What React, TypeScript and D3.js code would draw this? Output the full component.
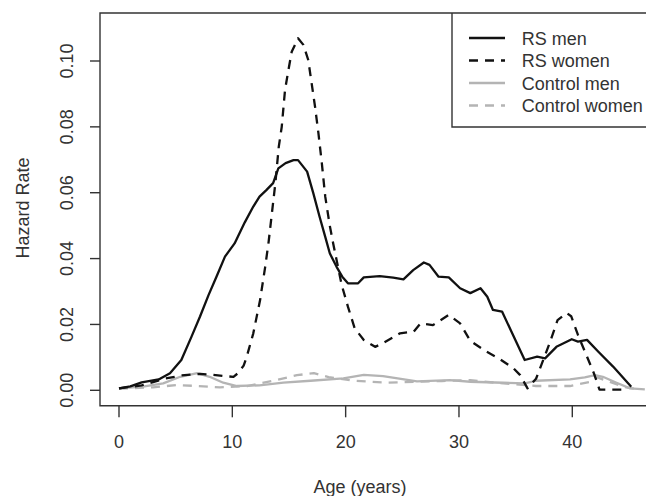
import React from "react";
import * as d3 from "d3";

const xTicks = [0, 10, 20, 30, 40];
const yTicks = [0, 0.02, 0.04, 0.06, 0.08, 0.1];
const yTickLabels = ["0.00", "0.02", "0.04", "0.06", "0.08", "0.10"];

const rsMenAge = [0, 1, 2, 3, 3.5, 4.5, 5.5, 6.4, 7.15, 7.9, 8.6, 9.35, 10.2, 11.1, 11.85, 12.4, 13.0, 13.6, 14.06, 14.7, 15.4, 15.8, 16.6, 17.15, 17.7, 18.2, 18.6, 19.2, 19.7, 20.2, 21.1, 21.6, 23.0, 24.2, 25.1, 25.96, 26.9, 27.4, 28.2, 29.1, 30.1, 31.0, 31.9, 32.5, 33.0, 33.8, 35.8, 36.9, 37.6, 38.6, 39.95, 40.5, 41.3, 42.3, 43.6, 45.2];
const rsMenRate = [0.0006, 0.0012, 0.0024, 0.003, 0.0033, 0.0052, 0.0092, 0.0163, 0.0224, 0.0289, 0.0345, 0.0406, 0.0446, 0.051, 0.0558, 0.0588, 0.0608, 0.0629, 0.0674, 0.069, 0.0699, 0.0699, 0.0664, 0.0598, 0.0527, 0.0466, 0.0416, 0.0375, 0.0345, 0.0325, 0.0325, 0.0343, 0.0347, 0.0342, 0.0337, 0.0365, 0.0388, 0.0381, 0.0345, 0.0343, 0.031, 0.0295, 0.031, 0.0284, 0.0244, 0.0239, 0.0092, 0.0102, 0.0097, 0.0132, 0.0155, 0.0148, 0.0153, 0.0117, 0.0072, 0.0011];

const rsWomenAge = [0, 2, 4, 5.5, 7.15, 8.0, 9.35, 10.1, 10.5, 11.0, 11.27, 11.85, 12.45, 12.9, 13.2, 13.5, 13.8, 14.1, 14.36, 14.65, 14.9, 15.24, 15.8, 16.27, 16.7, 17.0, 17.3, 17.6, 17.9, 18.2, 18.6, 18.9, 19.65, 20.2, 20.8, 21.6, 22.6, 23.3, 24.8, 26.0, 26.6, 27.7, 29.1, 30.1, 31.0, 32.3, 33.6, 34.8, 35.4, 36.05, 36.8, 38.0, 38.7, 39.5, 39.9, 40.5, 41.3, 41.9, 42.4, 44.5];
const rsWomenRate = [0.0006, 0.0015, 0.0035, 0.0045, 0.005, 0.0048, 0.0043, 0.0041, 0.0052, 0.0075, 0.0102, 0.0173, 0.0274, 0.0375, 0.045, 0.054, 0.063, 0.074, 0.08, 0.0912, 0.0963, 0.1028, 0.1069, 0.1049, 0.1003, 0.0932, 0.0861, 0.078, 0.0689, 0.0588, 0.05, 0.0446, 0.032, 0.0254, 0.0188, 0.0153, 0.0132, 0.0143, 0.0173, 0.0178, 0.0203, 0.0198, 0.0229, 0.0203, 0.015, 0.012, 0.0095, 0.0067, 0.0046, 0.0006, 0.0035, 0.0143, 0.0213, 0.0235, 0.0225, 0.0168, 0.0102, 0.0052, 0.0002, 0.0002];

const ctrlMenAge = [0, 2.1, 3.9, 5.4, 6.9, 8.0, 9.2, 10.4, 12.4, 14.5, 16.9, 19.8, 21.6, 23.3, 26.3, 29.2, 31.0, 33.9, 35.8, 36.8, 39.8, 41.1, 42.0, 42.7, 43.9, 45.1, 46.4];
const ctrlMenRate = [0.0006, 0.0011, 0.0021, 0.0041, 0.0052, 0.0041, 0.0023, 0.0013, 0.0015, 0.0023, 0.0029, 0.0036, 0.0047, 0.0043, 0.0027, 0.0031, 0.0026, 0.0023, 0.0021, 0.0029, 0.0033, 0.0039, 0.0046, 0.0041, 0.0023, 0.0006, 0.0003];

const ctrlWomenAge = [0, 3.0, 5.1, 6.9, 8.9, 11.3, 13.6, 15.7, 17.2, 18.5, 20.5, 23.6, 26.0, 28.5, 31.0, 33.5, 36.8, 39.8, 41.6, 42.2, 43.3, 44.5, 45.7];
const ctrlWomenRate = [0.0005, 0.0009, 0.0016, 0.0013, 0.0009, 0.0013, 0.0029, 0.0046, 0.0052, 0.004, 0.003, 0.0023, 0.0026, 0.0028, 0.0031, 0.0022, 0.0013, 0.0013, 0.0026, 0.0039, 0.0026, 0.0011, 0.0003];

const seriesNames = ["RS men", "RS women", "Control men", "Control women"];
const seriesColors = ["#111111", "#111111", "#b4b4b4", "#b4b4b4"];
const seriesDash = [null, "9,7", null, "9,7"];

const W = 646;
const H = 496;
const FONT = "'Liberation Sans', Arial, Helvetica, sans-serif";

export default function App() {
  const x = d3.scaleLinear().domain([0, 40]).range([119, 572.3]);
  const y = d3.scaleLinear().domain([0, 0.1]).range([390.3, 61]);
  const boxL = 100, boxT = 13, boxB = 405.7, boxR = 660;

  const series = [
    [rsMenAge, rsMenRate],
    [rsWomenAge, rsWomenRate],
    [ctrlMenAge, ctrlMenRate],
    [ctrlWomenAge, ctrlWomenRate],
  ];
  const line = d3
    .line<[number, number]>()
    .x((d) => x(d[0]))
    .y((d) => y(d[1]))
    .curve(d3.curveLinear);

  const drawOrder = [2, 3, 0, 1];
  const legendY = [38, 60.5, 83, 105.5];

  return (
    <svg
      width={W}
      height={H}
      style={{ position: "absolute", left: 0, top: 0, background: "#fff" }}
      fontFamily={FONT}
    >
      <rect x={0} y={0} width={W} height={H} fill="#fff" />
      {drawOrder.map((i) => {
        const [ages, rates] = series[i];
        const pts = ages.map((a, k) => [a, rates[k]] as [number, number]);
        return (
          <path
            key={i}
            d={line(pts) || ""}
            fill="none"
            stroke={seriesColors[i]}
            strokeWidth={2.3}
            strokeDasharray={seriesDash[i] || undefined}
            strokeLinejoin="round"
          />
        );
      })}
      {/* plot box */}
      <path
        d={`M${boxR},${boxT}H${boxL}V${boxB}H${boxR}`}
        fill="none"
        stroke="#333"
        strokeWidth={1.4}
      />
      {/* x axis ticks */}
      {xTicks.map((t) => (
        <g key={"x" + t}>
          <line x1={x(t)} x2={x(t)} y1={boxB} y2={417.3} stroke="#333" strokeWidth={1.4} />
          <text x={x(t)} y={448} textAnchor="middle" fontSize={18} fill="#333">
            {t}
          </text>
        </g>
      ))}
      {/* y axis ticks */}
      {yTicks.map((t, i) => (
        <g key={"y" + t}>
          <line x1={90} x2={boxL} y1={y(t)} y2={y(t)} stroke="#333" strokeWidth={1.4} />
          <text
            transform={`translate(73,${y(t)}) rotate(-90)`}
            textAnchor="middle"
            fontSize={18}
            fill="#333"
          >
            {yTickLabels[i]}
          </text>
        </g>
      ))}
      <text
        transform={`translate(29,208) rotate(-90)`}
        textAnchor="middle"
        fontSize={18}
        fill="#333"
      >
        Hazard Rate
      </text>
      <text x={360} y={493} textAnchor="middle" fontSize={18} fill="#333">
        Age (years)
      </text>
      {/* legend */}
      <path d={`M${boxR},127H452V${boxT}`} fill="none" stroke="#333" strokeWidth={1.4} />
      {seriesNames.map((name, i) => (
        <g key={name}>
          <line
            x1={469}
            x2={505}
            y1={legendY[i]}
            y2={legendY[i]}
            stroke={seriesColors[i]}
            strokeWidth={2.3}
            strokeDasharray={seriesDash[i] || undefined}
          />
          <text x={521.7} y={legendY[i] + 6.5} fontSize={18} fill="#333">
            {name}
          </text>
        </g>
      ))}
    </svg>
  );
}
